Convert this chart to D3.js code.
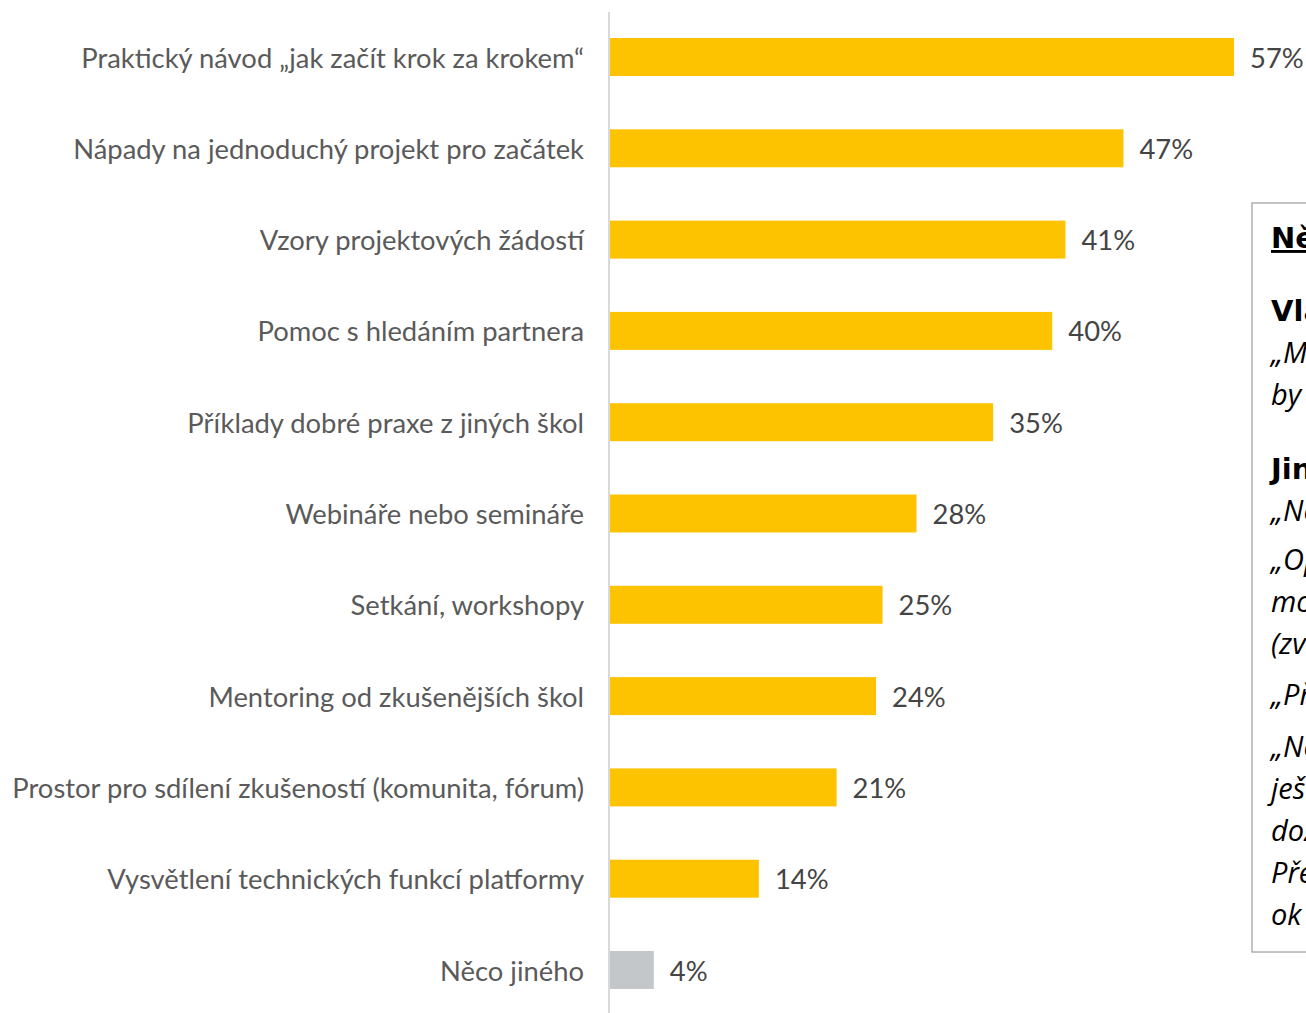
<!DOCTYPE html>
<html><head><meta charset="utf-8">
<script src="https://cdn.jsdelivr.net/npm/d3@7"></script>
<style>
html,body{margin:0;padding:0;background:#fff;overflow:hidden;}
svg{display:block;}
</style></head>
<body>
<svg id="chart" width="1306" height="1013"></svg>
<script>
const categories = [
  "Praktický návod „jak začít krok za krokem“",
  "Nápady na jednoduchý projekt pro začátek",
  "Vzory projektových žádostí",
  "Pomoc s hledáním partnera",
  "Příklady dobré praxe z jiných škol",
  "Webináře nebo semináře",
  "Setkání, workshopy",
  "Mentoring od zkušenějších škol",
  "Prostor pro sdílení zkušeností (komunita, fórum)",
  "Vysvětlení technických funkcí platformy",
  "Něco jiného"
];
// bar lengths (labels are rounded)
const values = [57, 46.9, 41.6, 40.4, 35.0, 28.0, 24.9, 24.3, 20.7, 13.6, 4.0];
const valueLabels = ["57%","47%","41%","40%","35%","28%","25%","24%","21%","14%","4%"];
const otherCategory = "Něco jiného";

const boxHeading = "Něco jiného – citace respondentů";
const boxBlocks = [
  {title: "Vlastní zkušenost:", lines: ["„Mít někoho, kdo by nám poradil,", "by bylo velmi užitečné.“"]},
  {title: "Jiné podněty:", lines: ["„Nemáme zatím zkušenosti.“"]},
  {title: null, lines: ["„Opravdu jednoduché návody,", "možnost konzultace", "(zvlášť pro malé školy).“"]},
  {title: null, lines: ["„Překlady do češtiny.“"]},
  {title: null, lines: ["„Nevím, zda se do projektu zapojíme,", "ještě se rozhodujeme,", "dozvěděli jsme se o tom nedávno.", "Předtím jsme se o platformě", "ok nevěděli.“"]}
];

const svg = d3.select("#chart");
const W = 1306, H = 1013;

const x = d3.scaleLinear().domain([0, 57]).range([610, 1234]);
const y = d3.scaleBand().domain(categories)
  .range([11.35, 11.35 + 91.3 * categories.length])
  .paddingInner(0.584).paddingOuter(0.292);

// bars
svg.append("g").selectAll("rect").data(categories).join("rect")
  .attr("x", x(0))
  .attr("y", d => y(d))
  .attr("width", (d,i) => x(values[i]) - x(0))
  .attr("height", y.bandwidth())
  .attr("fill", d => d === otherCategory ? "#C3C7CA" : "#FDC300");

// axis line
svg.append("line").attr("x1", 609).attr("x2", 609).attr("y1", 12).attr("y2", H)
  .attr("stroke", "#d9d9d9").attr("stroke-width", 2);

// category labels
const labFont = "Lato, 'Open Sans', sans-serif";
const labs = svg.append("g").selectAll("text").data(categories).join("text")
  .attr("x", 584)
  .attr("y", d => y(d) + y.bandwidth()/2 + 1)
  .attr("dy", "0.35em")
  .attr("text-anchor", "end")
  .attr("fill", "#5a5a5a")
  .style("font-family", labFont)
  .style("font-size", "26px")
  .text(d => d);
// fit widest label to reference width
let maxW = 0;
labs.each(function(){ maxW = Math.max(maxW, this.getComputedTextLength()); });
const fs = 26 * 572 / maxW;
labs.style("font-size", fs + "px");

// value labels
svg.append("g").selectAll("text").data(categories).join("text")
  .attr("x", (d,i) => x(values[i]) + 16)
  .attr("y", d => y(d) + y.bandwidth()/2 + 1)
  .attr("dy", "0.35em")
  .attr("fill", "#444")
  .style("font-family", labFont)
  .style("font-size", fs + "px")
  .text((d,i) => valueLabels[i]);

// note box
const box = svg.append("g");
box.append("rect").attr("x", 1252).attr("y", 203).attr("width", 200).attr("height", 749)
  .attr("fill", "#fff").attr("stroke", "#b0b0b0").attr("stroke-width", 1.5);
const bx = 1271;
const boxFont = "'Open Sans', sans-serif";
box.append("text").attr("x", bx).attr("y", 248)
  .style("font-family", "'DejaVu Sans', sans-serif").style("font-weight", "bold")
  .style("font-size", "29px").style("text-decoration", "underline").attr("fill", "#000")
  .text(boxHeading);
const blockY = [[321, 363, 405], [479, 521], [570, 612, 654], [705], [757, 799, 841, 883, 925]];
boxBlocks.forEach((b, bi) => {
  let k = 0;
  if (b.title) {
    box.append("text").attr("x", bx).attr("y", blockY[bi][0])
      .style("font-family", "'DejaVu Sans', sans-serif").style("font-weight", "bold")
      .style("font-size", "29px").attr("fill", "#000").text(b.title);
    k = 1;
  }
  b.lines.forEach((ln, li) => {
    box.append("text").attr("x", bx).attr("y", blockY[bi][k + li])
      .style("font-family", boxFont).style("font-style", "italic")
      .style("font-size", "29px").attr("fill", "#000").text(ln);
  });
});
</script>
</body></html>
